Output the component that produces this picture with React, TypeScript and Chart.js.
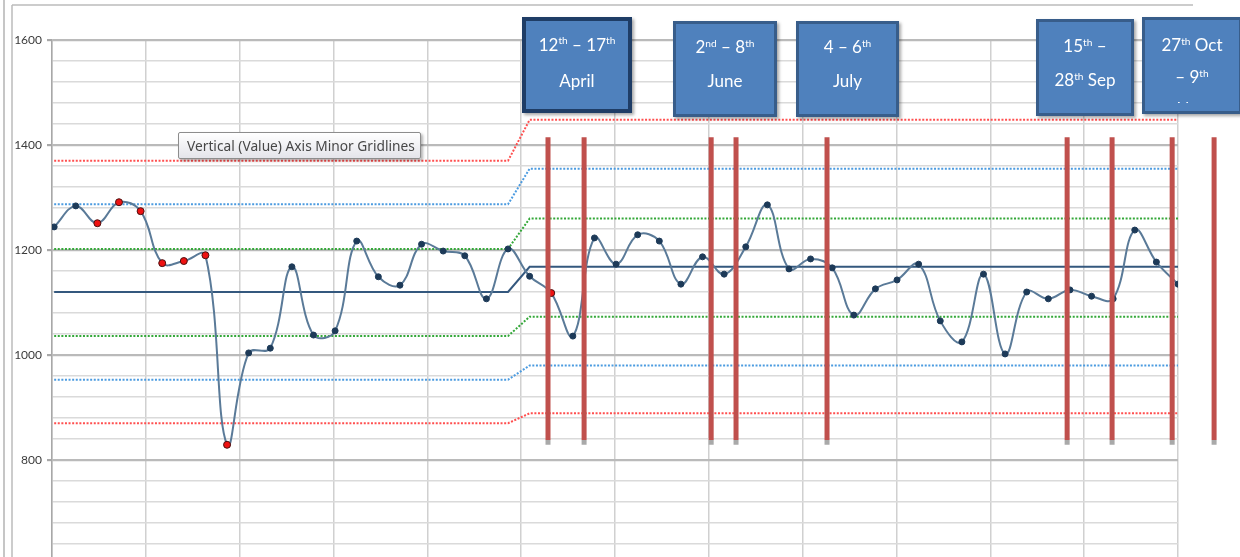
import React, { useEffect, useRef } from "react";
import { Chart, registerables } from "chart.js";

Chart.register(...registerables);

// ---- data ----
const values = [
  1244, 1284, 1251, 1291, 1274, 1175, 1179, 1190, 829, 1004, 1013, 1168, 1038, 1046, 1217, 1149, 1133, 1211, 1198, 1189, 1107, 1202, 1150,
  1118, 1036, 1223, 1173, 1229, 1217, 1135, 1187, 1154, 1206, 1286, 1164, 1183, 1166, 1076, 1126, 1143,
  1173, 1065, 1025, 1154, 1002, 1120, 1107, 1124, 1112, 1107, 1238, 1177, 1135,
];
const outOfControl = [2, 3, 4, 5, 6, 7, 8, 23];
const phaseEnd = 21; // last index of the first period
const centerLine = [1120, 1168];
const upper1 = [1202, 1260];
const lower1 = [1036, 1073];
const upper2 = [1287, 1355];
const lower2 = [953, 980];
const upper3 = [1370, 1448];
const lower3 = [870, 889];
const eventX = [22.85, 24.52, 30.4, 31.55, 35.76, 46.87, 48.95, 51.73, 53.67];
const eventLow = 838;
const eventHigh = 1415;
const eventShadowLow = 829;
const xMin = -0.1;
const xMax = 52;
const yMin = 600;
const yMax = 1600;
const yMajorTicks = [800, 1000, 1200, 1400, 1600];
const yMinorStep = 40;
const xGridCount = 12;

const yTickValues: number[] = [];
for (let v = yMin; v <= yMax; v += yMinorStep) yTickValues.push(v);

const framePlugin = {
  id: "frame",
  beforeDraw(chart: any) {
    const c = chart.ctx;
    c.save();
    c.strokeStyle = "#c6c6c6";
    c.lineWidth = 2;
    c.beginPath();
    c.moveTo(4, 0);
    c.lineTo(4, chart.height);
    c.stroke();
    c.strokeStyle = "#bcbcbc";
    c.lineWidth = 1.5;
    c.beginPath();
    c.moveTo(12, 5);
    c.lineTo(12, chart.height);
    c.moveTo(12, 5);
    c.lineTo(1193, 5);
    c.stroke();
    c.restore();
  },
};

const Sup = ({ children }: any) => (
  <span style={{ fontSize: "0.6em", position: "relative", top: "-0.6em" }}>{children}</span>
);

function Box({ left, top, width, height, bw, bc, lh, firstCenter, clipAt, lines }: any) {
  const textTop = firstCenter - top - bw - lh / 2;
  return (
    <div
      style={{
        position: "absolute",
        left,
        top,
        width,
        height,
        boxSizing: "border-box",
        background: "#4f81bd",
        border: `${bw}px solid ${bc}`,
        boxShadow: "2px 2px 3px rgba(0,0,0,0.35)",
        overflow: "hidden",
      }}
    >
      <div
        style={{
          position: "absolute",
          left: 0,
          right: 0,
          top: textTop,
          height: clipAt ? clipAt - top - bw - textTop : undefined,
          overflow: "hidden",
          textAlign: "center",
          color: "#ffffff",
          fontFamily: "Lato, sans-serif",
          fontSize: 17,
          lineHeight: lh + "px",
        }}
      >
        {lines.map((l: any, i: number) => (
          <div key={i} style={{ whiteSpace: "nowrap" }}>
            {l}
          </div>
        ))}
      </div>
    </div>
  );
}

export default function App() {
  const canvasRef = useRef<HTMLCanvasElement>(null);
  const tipRef = useRef<HTMLSpanElement>(null);

  useEffect(() => {
    const idx = values.map((_, i) => i);
    const step = (arr: number[]) => idx.map((i) => ({ x: i, y: i <= phaseEnd ? arr[0] : arr[1] }));
    const limitDs = (arr: number[], color: string, dashed = true) => ({
      type: "line",
      data: step(arr),
      borderColor: color,
      borderWidth: 2,
      borderDash: dashed ? [2, 1.6] : [],
      pointRadius: 0,
      tension: 0,
      order: 3,
    });
    const eventData = eventX.flatMap((x) => [
      { x, y: eventLow },
      { x, y: eventHigh },
      { x, y: null },
    ]);
    const eventShadowData = eventX.flatMap((x) => [
      { x, y: eventShadowLow },
      { x, y: eventLow },
      { x, y: null },
    ]);

    const chart = new Chart(canvasRef.current as HTMLCanvasElement, {
      type: "line",
      data: {
        datasets: [
          {
            data: eventData,
            xAxisID: "xe",
            borderColor: "#c0504d",
            borderWidth: 5,
            pointRadius: 0,
            spanGaps: false,
            clip: false,
            borderCapStyle: "butt",
            order: 0,
          } as any,
          {
            data: eventShadowData,
            xAxisID: "xe",
            borderColor: "#a9a9a9",
            borderWidth: 5,
            pointRadius: 0,
            spanGaps: false,
            clip: false,
            order: 0,
          } as any,
          {
            data: values.map((v, i) => ({ x: i, y: v })),
            borderColor: "#5a7a98",
            borderWidth: 2,
            tension: 0.4,
            pointRadius: (c: any) => (outOfControl.includes(c.dataIndex) ? 3.5 : 3),
            pointBackgroundColor: (c: any) => (outOfControl.includes(c.dataIndex) ? "#ee1111" : "#1d3a58"),
            pointBorderColor: (c: any) => (outOfControl.includes(c.dataIndex) ? "#4a1010" : "#1d3a58"),
            pointBorderWidth: 1,
            order: 1,
          } as any,
          { ...limitDs(centerLine, "#34587e", false), order: 2 } as any,
          limitDs(upper1, "#34a839") as any,
          limitDs(lower1, "#34a839") as any,
          limitDs(upper2, "#4b9be0") as any,
          limitDs(lower2, "#4b9be0") as any,
          limitDs(upper3, "#ff4f4f") as any,
          limitDs(lower3, "#ff4f4f") as any,
        ],
      },
      options: {
        animation: false,
        responsive: false,
        events: [],
        layout: { padding: { left: 0, top: 40, right: 62, bottom: 35 } },
        plugins: { legend: { display: false }, tooltip: { enabled: false } },
        scales: {
          x: { type: "linear", min: xMin, max: xMax, display: false },
          xe: {
            type: "linear",
            display: false,
            bounds: "data",
            afterDataLimits(a: any) {
              a.min = xMin;
              a.max = xMax;
            },
          },
          xg: {
            type: "linear",
            position: "bottom",
            min: 0,
            max: xGridCount,
            ticks: { display: false, stepSize: 1 },
            grid: { color: "#d0d0d0", lineWidth: 1.5, drawTicks: false },
            border: { display: false },
            afterFit(a: any) {
              a.height = 0;
            },
          },
          y: {
            type: "linear",
            min: yMin,
            max: yMax,
            afterFit(a: any) {
              a.width = 52;
            },
            afterBuildTicks(a: any) {
              a.ticks = yTickValues.map((v) => ({ value: v }));
            },
            ticks: {
              autoSkip: false,
              padding: 5,
              color: "#3c3c3c",
              font: { family: "Lato", size: 12 },
              callback: (v: any) => (yMajorTicks.includes(Number(v)) ? String(v) : ""),
            },
            grid: {
              color: (c: any) => (c.tick && yMajorTicks.includes(c.tick.value) ? "#bababa" : "#dadada"),
              lineWidth: (c: any) => (c.tick && yMajorTicks.includes(c.tick.value) ? 2.2 : 1.6),
              tickLength: 5,
              tickColor: (c: any) => (c.tick && yMajorTicks.includes(c.tick.value) ? "#a8a8a8" : "rgba(0,0,0,0)"),
            },
            border: { color: "#a8a8a8", width: 1.5 },
          },
        } as any,
      },
      plugins: [framePlugin],
    } as any);

    if (tipRef.current) {
      const w = tipRef.current.offsetWidth;
      tipRef.current.style.transform = `scaleX(${228 / w})`;
    }
    return () => chart.destroy();
  }, []);

  return (
    <div
      style={{
        position: "fixed",
        left: 0,
        top: 0,
        width: 1240,
        height: 557,
        overflow: "hidden",
        background: "#ffffff",
      }}
    >
      <canvas ref={canvasRef} width={1240} height={600} style={{ position: "absolute", left: 0, top: 0 }} />
      <div
        style={{
          position: "absolute",
          left: 178,
          top: 132,
          width: 243,
          height: 27,
          boxSizing: "border-box",
          border: "1px solid #8d8d8d",
          borderRadius: 2,
          background: "linear-gradient(#ffffff, #e4e4ea)",
          boxShadow: "2px 2px 3px rgba(0,0,0,0.3)",
        }}
      >
        <span
          ref={tipRef}
          style={{
            position: "absolute",
            left: 8,
            top: 0,
            lineHeight: "25px",
            fontFamily: "'Noto Sans', sans-serif",
            fontSize: 15,
            color: "#474747",
            whiteSpace: "nowrap",
            transformOrigin: "left center",
            display: "inline-block",
          }}
        >
          Vertical (Value) Axis Minor Gridlines
        </span>
      </div>
      <Box
        left={522}
        top={17}
        width={110}
        height={96}
        bw={4}
        bc="#1f3d66"
        lh={33}
        firstCenter={44}
        lines={[
          <>12<Sup>th</Sup> – 17<Sup>th</Sup></>,
          <>April</>,
        ]}
      />
      <Box
        left={673}
        top={21}
        width={104}
        height={96}
        bw={3}
        bc="#385d8a"
        lh={32}
        firstCenter={47}
        lines={[<>2<Sup>nd</Sup> – 8<Sup>th</Sup></>, <>June</>]}
      />
      <Box
        left={796}
        top={21}
        width={103}
        height={96}
        bw={3}
        bc="#385d8a"
        lh={32}
        firstCenter={47}
        lines={[<>4 – 6<Sup>th</Sup></>, <>July</>]}
      />
      <Box
        left={1036}
        top={19}
        width={98}
        height={97}
        bw={3}
        bc="#385d8a"
        lh={32}
        firstCenter={46}
        lines={[<>15<Sup>th</Sup> –</>, <>28<Sup>th</Sup> Sep</>]}
      />
      <Box
        left={1142}
        top={17}
        width={100}
        height={97}
        bw={3}
        bc="#385d8a"
        lh={30}
        firstCenter={45}
        clipAt={103}
        lines={[<>27<Sup>th</Sup> Oct</>, <>– 9<Sup>th</Sup></>, <>Nov</>]}
      />
    </div>
  );
}
